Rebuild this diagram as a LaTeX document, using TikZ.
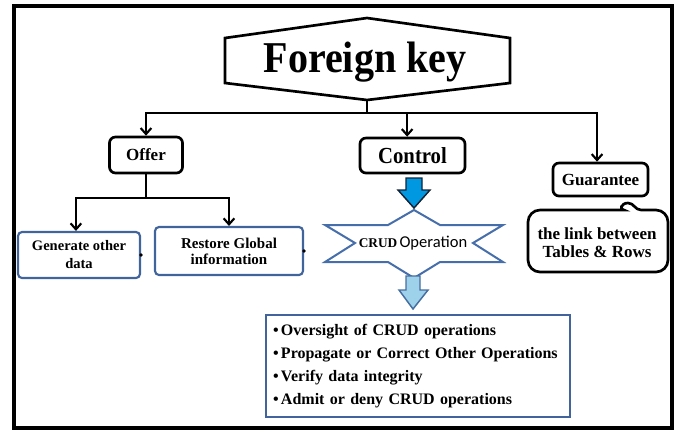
\documentclass[tikz,border=0pt]{standalone}
\usepackage{fontspec}
\setmainfont{Liberation Serif}
\newfontfamily\carl{Carlito}
\usetikzlibrary{arrows.meta}

\definecolor{boxblue}{RGB}{66,100,156}
\definecolor{starblue}{RGB}{70,110,170}
\definecolor{ctrlfill}{RGB}{0,152,224}
\definecolor{ctrledge}{RGB}{20,36,56}
\definecolor{lightfill}{RGB}{158,210,235}
\definecolor{lightedge}{RGB}{70,110,160}

\tikzset{
  frame/.style={draw=black, line width=2.3pt},
  conn/.style={draw=black, line width=1.9pt, line join=miter},
  tip/.style={-{Straight Barb[length=4.5pt,width=8pt,line width=1.6pt]}},
  blackbox/.style={draw=black, line width=2pt, rounded corners=4.5pt, fill=white,
    inner sep=0pt, font=\bfseries},
  bluebox/.style={draw=boxblue, line width=1.6pt, rounded corners=3pt, fill=white,
    inner sep=0pt, align=center, font=\bfseries},
  label/.style={inner sep=0pt, align=center, font=\bfseries},
}

\begin{document}
\begin{tikzpicture}[x=0.75pt, y=-0.75pt]
\useasboundingbox (0,0) rectangle (678,430);

% outer frame
\draw[frame] (14,6) rectangle (672,428);

% title hexagon
\draw[black, line width=2pt, fill=white]
  (367,18) -- (510,38) -- (510,83) -- (367,100) -- (225,83) -- (225,38) -- cycle;
\node[label, anchor=base] (fk) at (365,72)
  {\fontsize{33pt}{36pt}\selectfont\scalebox{0.91}[1]{Foreign key}};
\coordinate (fkb) at (367,100);
\coordinate (j) at (367,113);

% first level
\node[blackbox, minimum width=54.75pt, minimum height=27pt,
      font=\bfseries\fontsize{12.75pt}{14pt}\selectfont] (offer) at (146,155) {Offer};
\node[blackbox, minimum width=78.75pt, minimum height=26.25pt] (ctrl) at (412.5,155.5)
  {\fontsize{17.25pt}{19pt}\selectfont\scalebox{0.9}[1]{Control}};
\node[blackbox, minimum width=71.25pt, minimum height=24.75pt,
      font=\bfseries\fontsize{12.75pt}{14pt}\selectfont] (guar) at (600.5,179.5) {Guarantee};

\draw[conn] (fkb) -- (j);
\draw[conn, tip] (j) -| (offer.north);
\draw[conn, tip] (j) -| ([xshift=-4pt]ctrl.north);
\draw[conn, tip] (j) -| ([xshift=-2.6pt]guar.north);

% Offer branch
\node[bluebox, minimum width=91.5pt, minimum height=34.5pt,
      font=\bfseries\fontsize{10.9pt}{13.5pt}\selectfont] (gen) at (79,255)
  {Generate other\\data};
\node[bluebox, minimum width=111pt, minimum height=36pt,
      font=\bfseries\fontsize{11.25pt}{12pt}\selectfont] (rest) at (229,251)
  {Restore Global\\information};
\fill[black] (gen.east) circle[radius=1.4pt];
\fill[black] (rest.east) circle[radius=1.4pt];

\coordinate (oj) at (146,198);
\draw[conn] (offer.south) -- (oj);
\draw[conn, tip] (oj) -| ([xshift=-2.3pt]gen.north);
\draw[conn, tip] (oj) -| (rest.north);

% Control branch: arrow down to the star
\draw[ctrledge, line width=1.1pt, fill=ctrlfill, line join=miter]
  (406,178) -- (422,178) -- (422,190) -- (430,190) -- (414,208)
  -- (398,190) -- (406,190) -- cycle;

\draw[starblue, line width=1.5pt, fill=white, line join=miter]
  (325,225) -- (388,225) -- (414,210) -- (440,225) -- (503,225) -- (473,243)
  -- (503,262) -- (440,262) -- (414,278) -- (388,262) -- (325,262) -- (355,243) -- cycle;
\node[inner sep=0pt, anchor=base] (crud) at (413,247)
  {\bfseries\fontsize{10pt}{12pt}\selectfont CRUD\,\mdseries\carl\fontsize{12.4pt}{14pt}\selectfont Operation};

\draw[lightedge, line width=1.1pt, fill=lightfill, line join=miter]
  (406,276) -- (420,276) -- (420,290) -- (428,290) -- (413,309)
  -- (399,290) -- (406,290) -- cycle;

\node[draw=boxblue, line width=1.6pt, fill=white, minimum width=228pt,
      minimum height=76.5pt, text width=217.5pt, inner xsep=5.25pt, inner ysep=0pt,
      align=left, font=\bfseries\fontsize{12pt}{17.25pt}\selectfont] (list) at (418,366)
  {\makebox[6pt][l]{\textbullet}Oversight of CRUD operations\\
   \makebox[6pt][l]{\textbullet}Propagate or Correct Other Operations\\
   \makebox[6pt][l]{\textbullet}Verify data integrity\\
   \makebox[6pt][l]{\textbullet}Admit or deny CRUD operations};

% Guarantee branch: callout
\draw[black, line width=2pt, fill=white, rounded corners=9pt]
  (528,241) -- (528,210) -- (612,210)
  [sharp corners] .. controls (619,210) and (621,203) .. (628,203)
  .. controls (634,203) and (635,210) .. (641,210)
  [rounded corners=9pt] -- (668,210) -- (668,272) -- (528,272) -- cycle;
\node[label, font=\bfseries\fontsize{12.75pt}{13.5pt}\selectfont] (link) at (597,243)
  {the link between\\Tables \& Rows};

\end{tikzpicture}
\end{document}
